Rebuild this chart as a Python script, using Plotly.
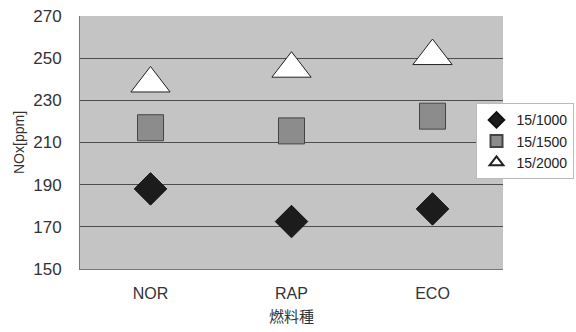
import plotly.graph_objects as go

categories = ["NOR", "RAP", "ECO"]
s1000 = [188, 172.5, 178.5]
s1500 = [217, 215.5, 222.5]
s2000 = [238, 245, 251]
yticks = [150, 170, 190, 210, 230, 250, 270]

font = "Noto Sans CJK JP, Liberation Sans, sans-serif"
tickfont = "Liberation Sans, Arial, sans-serif"

fig = go.Figure()
fig.add_trace(go.Scatter(x=categories, y=s1000, mode="markers", name="15/1000",
                         marker=dict(symbol="diamond", size=25, color="#1c1c1c",
                                     line=dict(color="#111111", width=1))))
fig.add_trace(go.Scatter(x=categories, y=s1500, mode="markers", name="15/1500",
                         marker=dict(symbol="square", size=26, color="#8c8c8c",
                                     line=dict(color="#444444", width=1))))
fig.add_trace(go.Scatter(x=categories, y=s2000, mode="markers", name="15/2000",
                         marker=dict(symbol="triangle-up", size=34, color="#ffffff",
                                     line=dict(color="#222222", width=1))))

fig.update_layout(
    width=576, height=332,
    margin=dict(l=80, r=73, t=16, b=63, autoexpand=False),
    paper_bgcolor="white",
    plot_bgcolor="#c4c4c4",
    font=dict(family=font, size=16, color="#333333"),
    showlegend=True,
    legend=dict(x=0.935, y=0.655, xanchor="left", yanchor="top",
                bgcolor="white", bordercolor="#bbbbbb", borderwidth=1,
                font=dict(family=tickfont, size=14, color="#222222"),
                itemsizing="constant", tracegroupgap=0, itemwidth=30),
    xaxis=dict(title=dict(text="燃料種", font=dict(size=15), standoff=10),
               showgrid=False, showline=True, linecolor="#777777",
               ticks="outside", ticklen=10, tickcolor="rgba(0,0,0,0)",
               tickfont=dict(family=tickfont, size=16),
               range=[-0.5, 2.5]),
    yaxis=dict(title=dict(text="NOx[ppm]", font=dict(family=tickfont, size=14), standoff=5),
               range=[150, 270], tickvals=yticks, showgrid=True,
               gridcolor="#4d4d4d", gridwidth=1, showline=True,
               linecolor="#777777", zeroline=False,
               ticks="outside", ticklen=14, tickcolor="rgba(0,0,0,0)",
               tickfont=dict(family=tickfont, size=17)),
)
fig.write_html("out.html", post_script="document.body.style.margin='0';",
               config={"displayModeBar": False})
